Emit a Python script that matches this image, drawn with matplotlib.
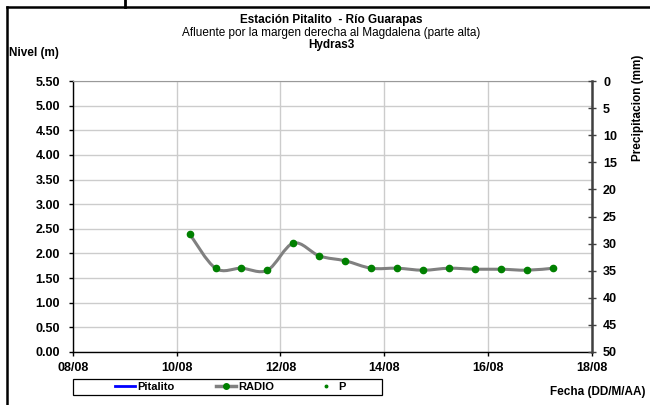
import numpy as np
import matplotlib
matplotlib.use("Agg")
import matplotlib.pyplot as plt
import matplotlib.dates as mdates
from matplotlib.path import Path
from matplotlib.patches import PathPatch, Rectangle
from matplotlib.lines import Line2D
from datetime import datetime, timedelta

plt.rcParams['font.family'] = ['Liberation Sans', 'DejaVu Sans']

# RADIO level readings, every 12 h from 10/08 06:00
start = datetime(2012, 8, 10, 6, 0)
fechas = [start + timedelta(hours=12 * i) for i in range(15)]
nivel_radio = [2.40, 1.70, 1.70, 1.66, 2.21, 1.95, 1.85, 1.70,
               1.70, 1.66, 1.70, 1.68, 1.68, 1.66, 1.70]
# no data for Pitalito and precipitation
nivel_pitalito = []
precip = []

xlim = (datetime(2012, 8, 8), datetime(2012, 8, 18))
nivel_ticks = np.arange(0, 5.51, 0.5)
precip_ticks = np.arange(0, 51, 5)

W, H = 650, 405
fig = plt.figure(figsize=(6.5, 4.05), dpi=100)
ax = fig.add_axes([72.7 / W, 1 - 352 / H, (592 - 72.7) / W, (352 - 81) / H])

# smoothed line (excel style) as bezier path through the points
x = mdates.date2num(fechas)
y = np.array(nivel_radio)
verts = [(x[0], y[0])]
codes = [Path.MOVETO]
n = len(x)
for i in range(n - 1):
    p0 = (x[max(i - 1, 0)], y[max(i - 1, 0)])
    p1 = (x[i], y[i])
    p2 = (x[i + 1], y[i + 1])
    p3 = (x[min(i + 2, n - 1)], y[min(i + 2, n - 1)])
    c1 = (p1[0] + (p2[0] - p0[0]) / 6, p1[1] + (p2[1] - p0[1]) / 6)
    c2 = (p2[0] - (p3[0] - p1[0]) / 6, p2[1] - (p3[1] - p1[1]) / 6)
    verts += [c1, c2, p2]
    codes += [Path.CURVE4] * 3
ax.add_patch(PathPatch(Path(verts, codes), facecolor='none', edgecolor='#808080', lw=2.2, zorder=3))
ax.plot(fechas, nivel_radio, ls='none', marker='o', ms=4.5, color='#008000', zorder=4)
ax.plot([], [], color='#0000ff', lw=1.8)

ax.set_xlim(xlim)
ax.set_ylim(0, 5.5)
ax.set_yticks(nivel_ticks)
ax.yaxis.set_major_formatter(plt.FormatStrFormatter('%.2f'))
ax.xaxis.set_major_locator(mdates.DayLocator(bymonthday=[8, 10, 12, 14, 16, 18]))
ax.xaxis.set_major_formatter(mdates.DateFormatter('%d/%m'))
ax.grid(True, color='#cccccc', lw=1)
ax.set_axisbelow(True)
for lab in ax.get_xticklabels() + ax.get_yticklabels():
    lab.set_fontweight('bold')
ax.tick_params(axis='both', labelsize=9, length=3, width=1, direction='out', pad=4)
ax.tick_params(axis='y', pad=6)
ax.spines['top'].set_color('#999999')
ax.spines['top'].set_linewidth(0.8)
ax.spines['right'].set_visible(False)
ax.spines['left'].set_linewidth(1)
ax.spines['bottom'].set_linewidth(1)

ax2 = ax.twinx()
ax2.plot([], [], ls='none', marker='o', ms=1.5, color='#008000')
ax2.set_ylim(50, 0)
ax2.set_yticks(precip_ticks)
for lab in ax2.get_yticklabels():
    lab.set_fontweight('bold')
ax2.tick_params(axis='y', labelsize=9, length=6, width=1, direction='inout', pad=5, color='#404040')
ax2.spines['right'].set_color('#404040')
ax2.spines['right'].set_linewidth(1.8)
for s in ['top', 'left', 'bottom']:
    ax2.spines[s].set_visible(False)

# legend box + entries
fig.add_artist(Rectangle((72.7 / W, 1 - 395 / H), (382 - 72.7) / W, 16 / H, transform=fig.transFigure,
                         facecolor='white', edgecolor='black', lw=0.9))
h_pit = Line2D([], [], color='#0000ff', lw=2)
h_rad = Line2D([], [], color='#808080', lw=2.5, marker='o', ms=4, mfc='#008000', mec='#008000')
h_p = Line2D([], [], ls='none', marker='o', ms=1.8, color='#008000')
fs = 8
em = fs * 100 / 72
fig.legend([h_pit, h_rad, h_p], ['Pitalito', 'RADIO', 'P'], ncol=3, loc='center left',
           bbox_to_anchor=(115 / W, 1 - 387 / H), frameon=False, borderpad=0, borderaxespad=0,
           handlelength=20 / em, handletextpad=2 / em, columnspacing=42 / em,
           prop={'weight': 'bold', 'size': fs})

fig.text(0.51, 1 - 20 / H, 'Estación Pitalito  - Río Guarapas', ha='center', va='center',
         fontsize=8.5, fontweight='bold')
fig.text(0.51, 1 - 33 / H, 'Afluente por la margen derecha al Magdalena (parte alta)', ha='center',
         va='center', fontsize=8.5)
fig.text(0.51, 1 - 45 / H, 'Hydras3', ha='center', va='center', fontsize=8.5, fontweight='bold')
fig.text(9 / W, 1 - 53 / H, 'Nivel (m)', ha='left', va='center', fontsize=8.5, fontweight='bold')
fig.text(638 / W, 1 - 108 / H, 'Precipitacion (mm)', ha='center', va='center', rotation=90,
         fontsize=8.5, fontweight='bold')
fig.text(646 / W, 1 - 392 / H, 'Fecha (DD/M/AA)', ha='right', va='center', fontsize=8.5,
         fontweight='bold')

# outer frame pieces
fig.add_artist(Line2D([7 / W, 7 / W], [0, 1 - 7 / H], color='black', lw=1.8))
fig.add_artist(Line2D([7 / W, 1], [1 - 7 / H, 1 - 7 / H], color='black', lw=1.8))
fig.add_artist(Line2D([125 / W, 125 / W], [1 - 7 / H, 1], color='black', lw=2))

fig.savefig('out.png', dpi=100)
